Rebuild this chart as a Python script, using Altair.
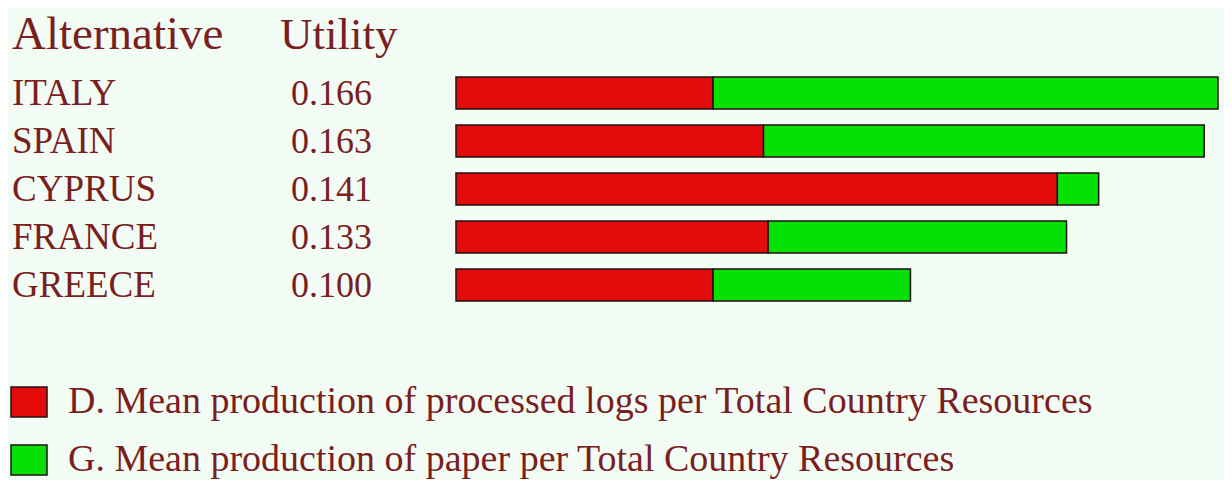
import altair as alt
import pandas as pd

countries = ["ITALY", "SPAIN", "CYPRUS", "FRANCE", "GREECE"]
utility = [0.166, 0.163, 0.141, 0.133, 0.100]
part_d = [0.056, 0.067, 0.131, 0.068, 0.056]
part_g = [0.110, 0.096, 0.009, 0.065, 0.043]
series = [
    "D. Mean production of processed logs per Total Country Resources",
    "G. Mean production of paper per Total Country Resources",
]
colors = ["#e30b0b", "#05e005"]
headers = ["Alternative", "Utility"]

rows = []
for c, d, g in zip(countries, part_d, part_g):
    rows.append({"country": c, "series": series[0], "value": d, "k": 0})
    rows.append({"country": c, "series": series[1], "value": g, "k": 1})
bars_df = pd.DataFrame(rows)
util_df = pd.DataFrame({"country": countries, "utility": utility})
head_df = pd.DataFrame({"h": headers})

TEXT = "#7a1f1f"
FONT = "Liberation Serif"
BG = "#f3fbf5"

yscale = alt.Scale(domain=countries, range=[61, 301], paddingInner=1 / 3, paddingOuter=1 / 6)
xscale = alt.Scale(domain=[0, max(utility)], range=[448, 1210], nice=False, zero=True)

bars = alt.Chart(bars_df).mark_bar(stroke="#221111", strokeWidth=1.5).encode(
    x=alt.X("value:Q", stack="zero", scale=xscale, axis=None),
    y=alt.Y("country:N", scale=yscale, axis=None),
    color=alt.Color(
        "series:N",
        scale=alt.Scale(domain=series, range=colors),
        legend=alt.Legend(
            orient="none", legendX=2, legendY=375, title=None,
            symbolType="M-1,-0.83H1V0.83H-1Z", symbolSize=1296,
            symbolStrokeColor="#221111", symbolStrokeWidth=1.5, symbolOpacity=1,
            labelFont=FONT, labelFontSize=38, labelColor=TEXT, labelLimit=1200,
            rowPadding=20, labelOffset=20, padding=0,
        ),
    ),
    order=alt.Order("k:Q"),
)

names = alt.Chart(util_df).mark_text(
    align="left", baseline="alphabetic", dy=12, font=FONT, fontSize=37, color=TEXT
).encode(y=alt.Y("country:N", scale=yscale, axis=None), x=alt.value(4), text="country:N")

utils = alt.Chart(util_df).mark_text(
    align="left", baseline="alphabetic", dy=12, font=FONT, fontSize=36, color=TEXT
).encode(
    y=alt.Y("country:N", scale=yscale, axis=None),
    x=alt.value(283),
    text=alt.Text("utility:Q", format=".3f"),
)

h1 = alt.Chart(head_df).transform_filter(alt.datum.h == headers[0]).mark_text(
    align="left", baseline="alphabetic", font=FONT, fontSize=47, color=TEXT
).encode(x=alt.value(4), y=alt.value(41), text="h:N")

h2 = alt.Chart(head_df).transform_filter(alt.datum.h == headers[1]).mark_text(
    align="left", baseline="alphabetic", font=FONT, fontSize=45, color=TEXT
).encode(x=alt.value(272), y=alt.value(41), text="h:N")

chart = alt.layer(bars, names, utils, h1, h2).properties(
    width=1216, height=472, background=BG, padding=0,
    autosize=alt.AutoSizeParams(type="none"),
).configure_view(stroke=None)

chart.save("out.html", embed_options={"renderer": "svg", "actions": False})
